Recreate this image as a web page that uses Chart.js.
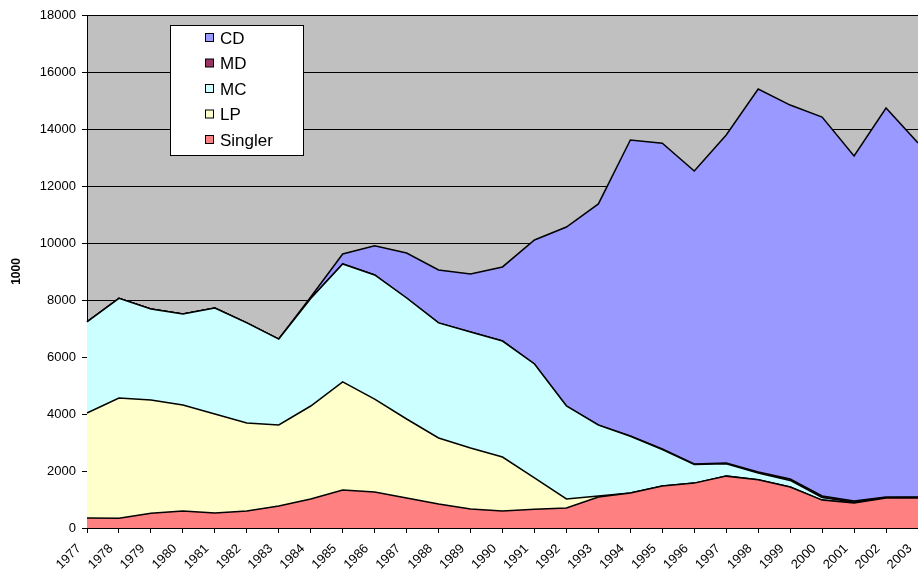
<!DOCTYPE html>
<html>
<head>
<meta charset="utf-8">
<script src="https://cdn.jsdelivr.net/npm/chart.js@4"></script>
<style>
  body { margin: 0; background: #fff; }
  canvas { display: block; }
</style>
</head>
<body>
<canvas id="chart" width="918" height="571"></canvas>
<script>
// years on the x axis
const years = ['1977','1978','1979','1980','1981','1982','1983','1984','1985','1986','1987','1988','1989','1990',
               '1991','1992','1993','1994','1995','1996','1997','1998','1999','2000','2001','2002','2003'];

// series (1000 units), bottom to top
const singler = [350,345,520,595,525,600,775,1015,1335,1265,1050,840,665,600,655,700,1085,1225,1470,1575,1820,1690,1440,980,875,1055,1050];
const lp      = [3685,4215,3970,3720,3475,3085,2840,3265,3790,3260,2775,2320,2140,1890,1100,320,35,0,0,0,0,0,0,0,0,0,0];
const mc      = [3195,3500,3195,3195,3720,3510,3015,3770,4140,4355,4245,4035,4070,4070,4000,3260,2490,1995,1285,650,435,235,230,90,30,5,20];
const md      = [0,0,0,0,0,0,0,0,0,0,0,0,0,0,0,0,5,10,15,20,25,40,50,55,40,30,20];
const cd      = [0,0,0,0,0,0,0,55,350,1020,1580,1860,2035,2600,4350,6280,7755,10385,10730,10280,11510,13440,13120,13295,12110,13645,12420];

const yTicks = [0,2000,4000,6000,8000,10000,12000,14000,16000,18000];

const FONT = 'Arial, "Liberation Sans", sans-serif';

function area(label, data, color, fill) {
    return {
        label: label,
        data: data,
        backgroundColor: color,
        borderColor: '#000',
        borderWidth: 1.5,
        fill: fill,
        pointRadius: 0,
        tension: 0
    };
}

// grey plot background
const plotBg = {
    id: 'plotBg',
    beforeDraw(chart) {
        const a = chart.chartArea;
        const ctx = chart.ctx;
        ctx.save();
        ctx.fillStyle = '#c0c0c0';
        ctx.fillRect(a.left, a.top, a.right - a.left, a.bottom - a.top);
        ctx.restore();
    }
};

// legend box inside the plot, top series first
const boxLegend = {
    id: 'boxLegend',
    afterDraw(chart) {
        const ctx = chart.ctx;
        const sets = chart.data.datasets.slice().reverse();
        ctx.save();
        ctx.fillStyle = '#fff';
        ctx.fillRect(170.5, 25.5, 133, 130);
        ctx.strokeStyle = '#000';
        ctx.lineWidth = 1;
        ctx.strokeRect(170.5, 25.5, 133, 130);
        ctx.font = '17px ' + FONT;
        ctx.textBaseline = 'middle';
        sets.forEach((ds, i) => {
            const y = 38 + i * 25.5;
            ctx.fillStyle = ds.backgroundColor;
            ctx.fillRect(205.5, y - 4.5, 8, 8);
            ctx.strokeRect(205.5, y - 4.5, 8, 8);
            ctx.fillStyle = '#000';
            ctx.fillText(ds.label, 220, y + 1);
        });
        ctx.restore();
    }
};

new Chart(document.getElementById('chart'), {
    type: 'line',
    data: {
        labels: years,
        datasets: [
            area('Singler', singler, '#ff8080', 'origin'),
            area('LP', lp, '#ffffcc', '-1'),
            area('MC', mc, '#ccffff', '-1'),
            area('MD', md, '#993366', '-1'),
            area('CD', cd, '#9999ff', '-1')
        ]
    },
    options: {
        responsive: false,
        animation: false,
        layout: { padding: { top: 15, right: 0, left: 0, bottom: 0 } },
        plugins: {
            legend: { display: false },
            tooltip: { enabled: false }
        },
        scales: {
            x: {
                offset: false,
                grid: { drawOnChartArea: false, drawTicks: true, tickLength: 5, color: '#000' },
                border: { color: '#000', width: 1 },
                ticks: {
                    color: '#000',
                    font: { family: FONT, size: 13 },
                    maxRotation: 45,
                    minRotation: 45,
                    autoSkip: false,
                    padding: 8,
                    labelOffset: -8
                },
                afterFit(scale) {
                    scale.height = 43;
                    scale.paddingLeft = 0;
                    scale.paddingRight = 0;
                }
            },
            y: {
                stacked: true,
                min: 0,
                max: 18000,
                grid: { color: '#000', lineWidth: 1, tickLength: 5 },
                border: { color: '#000', width: 1 },
                afterBuildTicks(scale) {
                    scale.ticks = yTicks.map(v => ({ value: v }));
                },
                ticks: {
                    color: '#000',
                    font: { family: FONT, size: 13 },
                    padding: 6,
                    callback: v => String(v)
                },
                title: {
                    display: true,
                    text: '1000',
                    color: '#000',
                    font: { family: FONT, size: 12, weight: 'bold' },
                    padding: { top: 9, bottom: 0 }
                },
                afterFit(scale) {
                    scale.width = 87;
                }
            }
        }
    },
    plugins: [plotBg, boxLegend]
});
</script>
</body>
</html>
